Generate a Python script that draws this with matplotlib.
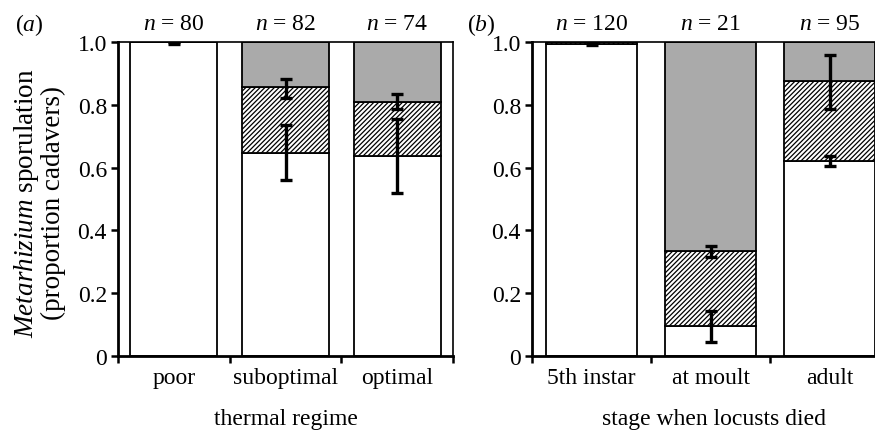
import numpy as np
import matplotlib
matplotlib.use("Agg")
import matplotlib.pyplot as plt

plt.rcParams["font.family"] = ["Liberation Serif", "DejaVu Serif"]
plt.rcParams["mathtext.fontset"] = "custom"
plt.rcParams["mathtext.rm"] = "Liberation Serif"
plt.rcParams["mathtext.it"] = "Liberation Serif:italic"
plt.rcParams["hatch.linewidth"] = 0.9

# --- Data: (a) thermal regime ---
cats_a = ["poor", "suboptimal", "optimal"]
n_a = [80, 82, 74]
white_a = [1.0, 0.645, 0.637]
hatch_a = [0.0, 0.211, 0.173]
white_lo_a = [0.994, 0.562, 0.519]
white_hi_a = [1.0, 0.735, 0.755]
cum_lo_a = [np.nan, 0.823, 0.787]
cum_hi_a = [np.nan, 0.883, 0.835]

# --- Data: (b) stage when locusts died ---
cats_b = ["5th instar", "at moult", "adult"]
n_b = [120, 21, 95]
white_b = [0.994, 0.094, 0.621]
hatch_b = [0.006, 0.240, 0.256]
white_lo_b = [0.990, 0.046, 0.605]
white_hi_b = [1.0, 0.144, 0.637]
cum_lo_b = [np.nan, 0.316, 0.787]
cum_hi_b = [np.nan, 0.350, 0.959]

GREY = "#aaaaaa"
FS = 17


def draw_errs(ax, x, mid, lo, hi):
    mid = np.asarray(mid, float)
    lo = np.asarray(lo, float)
    hi = np.asarray(hi, float)
    ok = ~np.isnan(lo)
    ax.errorbar(np.asarray(x)[ok], mid[ok], yerr=[mid[ok] - lo[ok], hi[ok] - mid[ok]],
                fmt="none", ecolor="black", elinewidth=2.4, capsize=4.5, capthick=2.4, zorder=5)


def panel(ax, cats, n, white, hatch, wlo, whi, clo, chi, width, xlabel, xlab_x=0.5):
    x = np.arange(len(cats))
    white = np.asarray(white)
    hatch = np.asarray(hatch)
    grey = 1.0 - white - hatch
    ax.bar(x, white, width, color="white", edgecolor="black", linewidth=1.3)
    ax.bar(x, hatch, width, bottom=white, color="white", edgecolor="black",
           linewidth=1.3, hatch="///////")
    ax.bar(x, grey, width, bottom=white + hatch, color=GREY, edgecolor="black", linewidth=1.3)

    draw_errs(ax, x, white, wlo, whi)
    draw_errs(ax, x, white + hatch, clo, chi)

    for xi, ni in zip(x, n):
        ax.text(xi, 1.04, f"$n$ = {ni}", ha="center", va="baseline", fontsize=FS)

    ax.set_xlim(-0.5, len(cats) - 0.5)
    ax.set_ylim(0, 1.0)
    ax.set_yticks([0, 0.2, 0.4, 0.6, 0.8, 1.0])
    ax.set_yticklabels(["0", "0.2", "0.4", "0.6", "0.8", "1.0"])
    ax.set_xticks(np.arange(len(cats) + 1) - 0.5)
    ax.set_xticklabels([])
    ax.set_xticks(x, minor=True)
    ax.set_xticklabels(cats, minor=True)
    ax.tick_params(axis="x", which="minor", length=0, pad=8, labelsize=FS)
    ax.tick_params(axis="both", which="major", direction="out", length=5, width=1.8,
                   labelsize=FS, pad=3)
    ax.set_xlabel(xlabel, fontsize=FS, labelpad=14, x=xlab_x)
    ax.spines["left"].set_linewidth(2.0)
    ax.spines["bottom"].set_linewidth(2.0)
    ax.spines["top"].set_linewidth(1.2)
    ax.spines["right"].set_linewidth(1.2)


fig = plt.figure(figsize=(8.75, 4.31), dpi=100)
ax_a = fig.add_axes([118 / 875, 1 - 357 / 431, 335 / 875, 314 / 431])
ax_b = fig.add_axes([532 / 875, 1 - 357 / 431, 357 / 875, 314 / 431])

panel(ax_a, cats_a, n_a, white_a, hatch_a, white_lo_a, white_hi_a, cum_lo_a, cum_hi_a,
      0.78, "thermal regime")
panel(ax_b, cats_b, n_b, white_b, hatch_b, white_lo_b, white_hi_b, cum_lo_b, cum_hi_b,
      0.76, "stage when locusts died", xlab_x=0.51)

fig.text(15 / 875, 1 - 31 / 431, r"($a$)", ha="left", va="baseline", fontsize=FS)
fig.text(467 / 875, 1 - 31 / 431, r"($b$)", ha="left", va="baseline", fontsize=FS)

fig.text(39 / 875, 1 - 203 / 431, "$Metarhizium$ sporulation\n(proportion cadavers)",
         rotation=90, ha="center", va="center", multialignment="center", fontsize=19.5,
         linespacing=0.95)

fig.savefig("out.png", dpi=100)
